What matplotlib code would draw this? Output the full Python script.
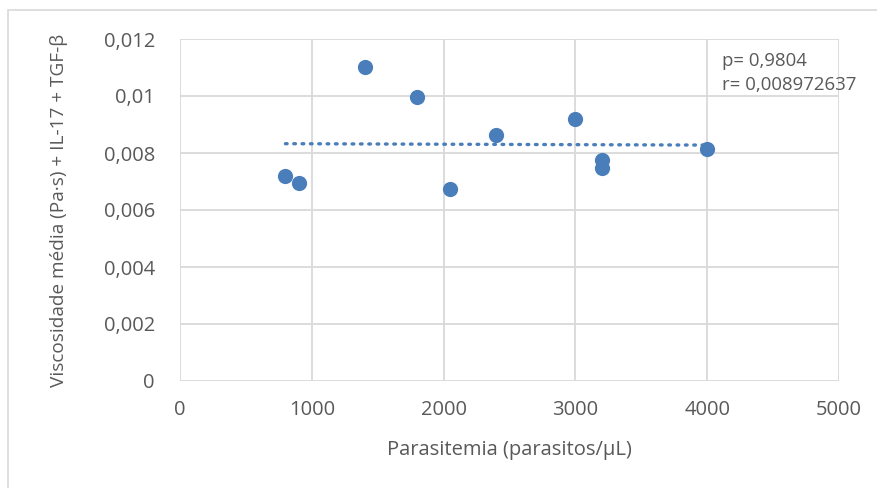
import numpy as np
import matplotlib.pyplot as plt
from matplotlib.patches import Rectangle

# data
parasitemia = [800, 900, 1400, 1800, 2050, 2400, 3000, 3200, 3200, 4000]
viscosidade = [0.00719, 0.00695, 0.01101, 0.00996, 0.00674, 0.00862, 0.00920, 0.00776, 0.00746, 0.00815]
xticks = [0, 1000, 2000, 3000, 4000, 5000]
yticks = [0, 0.002, 0.004, 0.006, 0.008, 0.010, 0.012]
ytick_labels = ["0", "0,002", "0,004", "0,006", "0,008", "0,01", "0,012"]

blue = "#4a7ebb"
gray = "#595959"
grid = "#d9d9d9"

plt.rcParams['font.family'] = ['Open Sans', 'DejaVu Sans']

fig = plt.figure(figsize=(8.77, 4.88), dpi=100)
ax = fig.add_axes([180/877, 1-381/488, (839-180)/877, (381-39)/488])

# outer chart border (right and bottom edges fall outside the image)
fig.patches.append(Rectangle((8/877, -0.05), 1.0, 1.05 - 10/488, transform=fig.transFigure,
                             fill=False, edgecolor=grid, lw=1.2))

ax.scatter(parasitemia, viscosidade, s=120, color=blue, zorder=3, linewidths=0)

# linear trendline
x = np.array(parasitemia)
m, b = np.polyfit(x, viscosidade, 1)
xs = np.array([x.min(), x.max()])
ax.plot(xs, m*xs + b, color=blue, lw=2.4, linestyle=(0, (0.5, 2.0)),
        dash_capstyle='round', zorder=2)

ax.set_xlim(0, 5000)
ax.set_ylim(0, 0.012)
ax.set_xticks(xticks)
ax.set_xticklabels([str(t) for t in xticks])
ax.set_yticks(yticks)
ax.set_yticklabels(ytick_labels)
ax.tick_params(length=0, labelsize=14.5, colors=gray)
ax.tick_params(axis='y', pad=18)
ax.tick_params(axis='x', pad=14)
ax.grid(True, color=grid, lw=1.3)
ax.set_axisbelow(True)
for s in ax.spines.values():
    s.set_visible(False)

ax.set_xlabel("Parasitemia (parasitos/μL)", fontsize=14.5, color=gray, labelpad=14)
ax.set_ylabel("Viscosidade média (Pa·s) + IL-17 + TGF-β", fontsize=13.7, color=gray, labelpad=26)

ax.text(4110, 0.0108, "p= 0,9804\nr= 0,008972637", fontsize=13.4, color=gray,
        va='center', ha='left', linespacing=1.45)

fig.savefig("out.png", dpi=100)
